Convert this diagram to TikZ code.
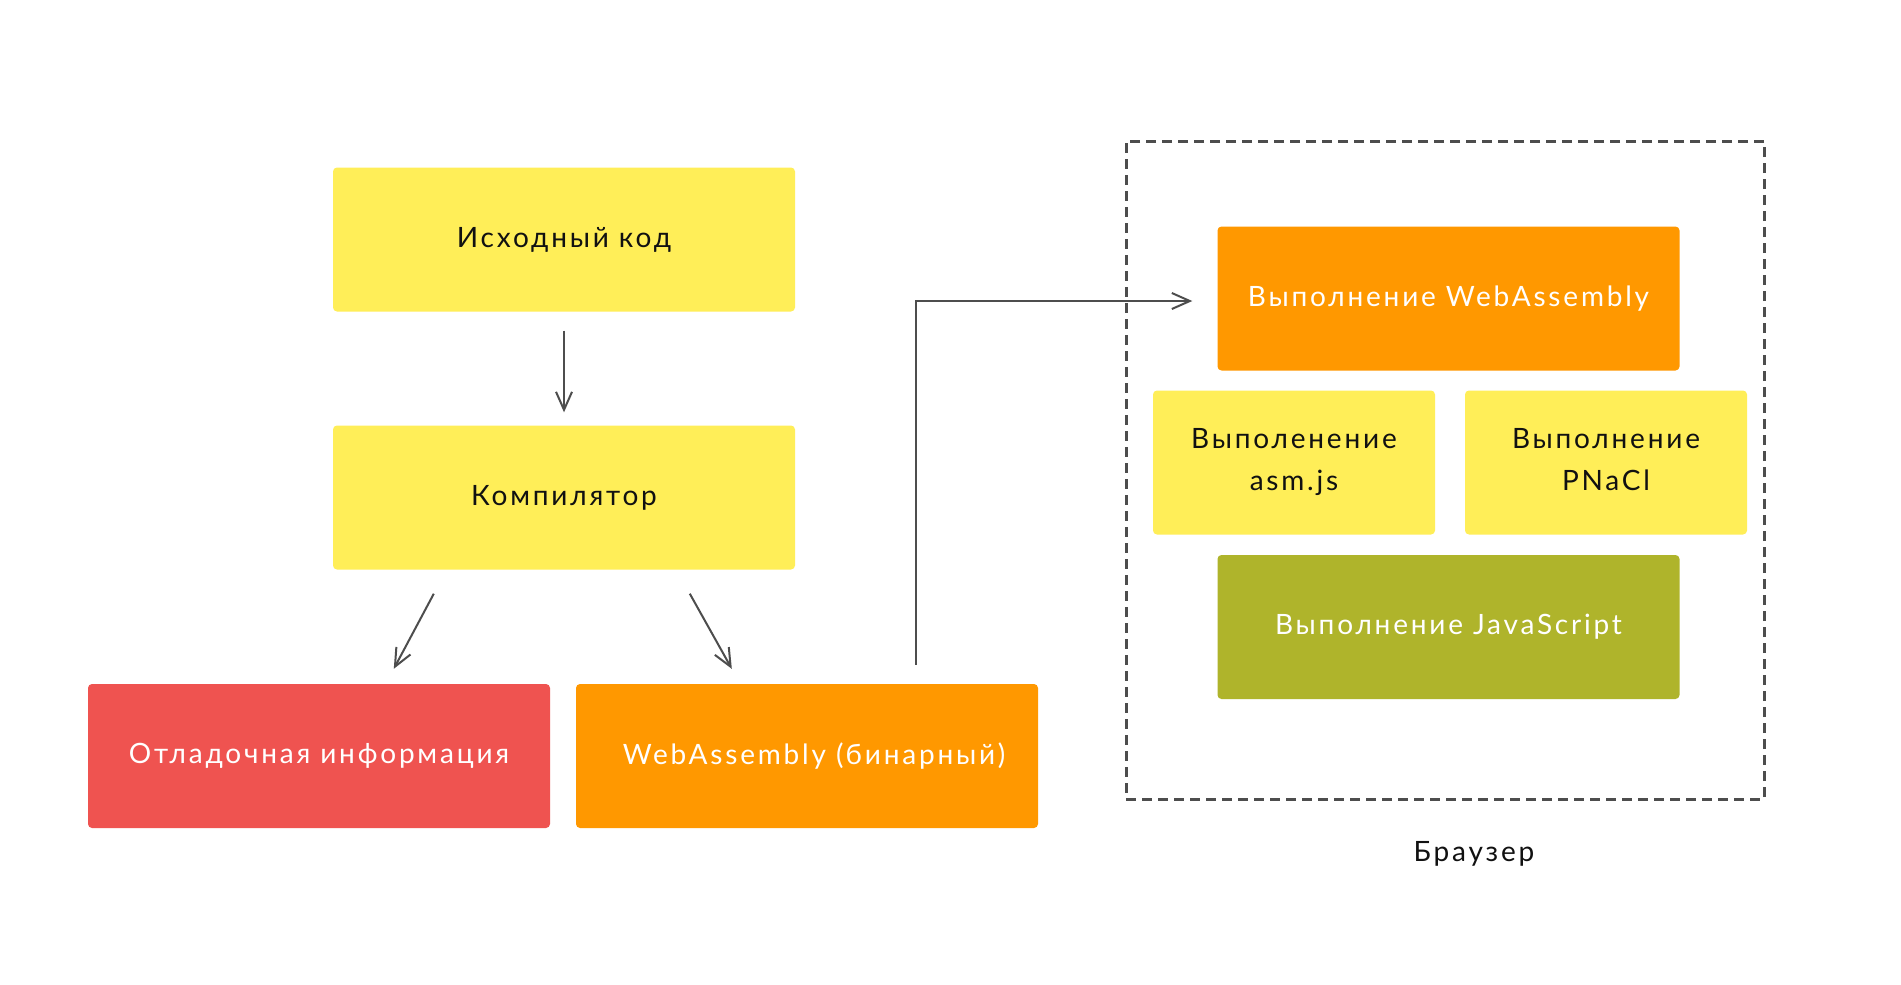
\documentclass[tikz,border=0pt]{standalone}
\usepackage{fontspec}
\setmainfont{Lato}[LetterSpace=10]
\usetikzlibrary{arrows.meta,calc}
\definecolor{cyellow}{HTML}{FFEE58}
\definecolor{corange}{HTML}{FF9800}
\definecolor{cred}{HTML}{EF5350}
\definecolor{colive}{HTML}{AFB42B}
\definecolor{cline}{HTML}{4D4D4D}
\definecolor{ctext}{HTML}{111111}
\begin{document}
\begin{tikzpicture}[x=1pt,y=-1pt,
  lbl/.style={font=\fontsize{28}{42}\selectfont},
  box/.style={lbl, rounded corners=4pt, minimum width=462pt, minimum height=144pt, inner sep=0pt, align=center},
  smallbox/.style={box, minimum width=282pt},
  ybox/.style={fill=cyellow, text=ctext},
  obox/.style={fill=corange, text=white},
  rbox/.style={fill=cred, text=white},
  gbox/.style={fill=colive, text=white},
  conn/.style={draw=cline, line width=2pt, -{Straight Barb[length=18pt,width=16pt,line width=2pt]}},
  plain/.style={draw=cline, line width=2pt}
]
\useasboundingbox (0,0) rectangle (1901,985);
\fill[white] (0,0) rectangle (1901,985);

\node[box,ybox] (src) at (564,239.5) {Исходный код};
\node[box,ybox] (comp) at (564,497.5) {Компилятор};
\node[box,rbox] (debug) at (319,756) {Отладочная информация};
\node[box,obox] (wbin) at (807,756) {\hspace*{14pt}WebAssembly (бинарный)};

\node[draw=cline, line width=3pt, dash pattern=on 10pt off 6pt, minimum width=638pt, minimum height=658pt, inner sep=0pt] (browser) at (1445,470) {};
\node[lbl, text=ctext] (blabel) at (1474,854) {Браузер};

\node[box,obox] (ewasm) at (1448.5,298.5) {Выполнение WebAssembly};
\node[smallbox,ybox] (asm) at (1294,462.5) {Выполенение\\asm.js};
\node[smallbox,ybox] (pnacl) at (1606,462.5) {Выполнение\\PNaCl\vphantom{j}};
\node[box,gbox] (js) at (1448.5,627) {Выполнение JavaScript};

\draw[conn] ($(src.south)+(0,19)$) -- ($(comp.north)+(0,-13)$);
\draw[conn] ($(comp.south west)+(101,24)$) -- ($(debug.north west)+(306,-15)$);
\draw[conn] ($(comp.south west)+(357,24)$) -- ($(wbin.north west)+(156,-15)$);
\draw[conn] ($(wbin.north east)+(-122,-19)$) |- ($(ewasm.west)+(-25,2.5)$);
\end{tikzpicture}
\end{document}
